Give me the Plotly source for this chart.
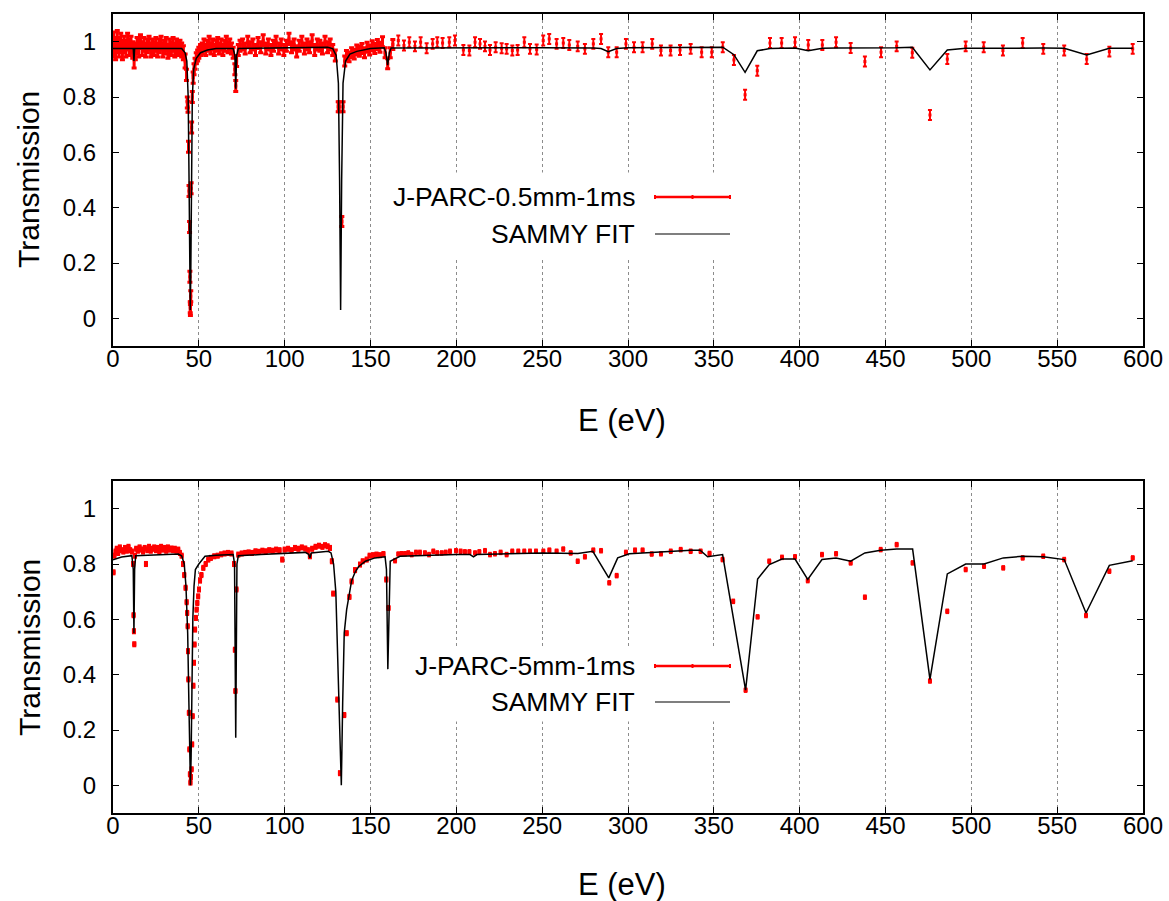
import plotly.graph_objects as go

# ---------------- TOP PANEL (J-PARC-0.5mm-1ms) ----------------
E_top_dense = [0.5, 1.5, 2.5, 3.5, 4.5, 5.5, 6.5, 7.5, 8.5, 9.5, 10.5, 11.5, 12.3, 13.0,
               14, 15, 16, 17, 18, 19, 20, 21, 22, 23, 24, 25, 26, 27, 28, 29, 30, 31, 32,
               33, 34, 35, 36, 37, 38, 39, 40, 41, 42, 42.8, 43.3, 43.7, 44.0, 44.3, 44.6,
               44.8, 45.0, 45.1, 45.3, 45.5, 45.8, 46.2, 46.7, 47.2, 47.8, 48.5, 49.3,
               50, 51, 52, 53, 54, 55, 56, 57, 58, 59, 60, 61, 62, 63, 64, 65, 66, 67, 68,
               69, 70, 71.0, 71.5, 72.0, 73, 74, 75.5, 77, 78.5, 80, 81.5, 83, 84.5, 86,
               87.5, 89, 90.5, 92, 93.5, 95, 96.5, 98, 99.5, 101, 102.5, 104, 105.5, 107,
               108.5, 110, 111.5, 113, 114.5, 116, 117.5, 119, 120.5, 122, 123.5, 125,
               126.5, 128, 129.5, 131.2, 131.8, 133.3, 134.0, 135, 136, 137.5, 139, 140.5,
               142, 143.5, 145, 146.5, 148, 149.5, 151, 152.5, 154, 155.5, 157, 158.5, 160,
               161.5, 163]
T_top_dense = [0.99, 0.975, 1.0, 0.98, 0.995, 0.97, 0.99, 0.975, 1.0, 0.98, 0.99, 0.97, 0.935, 0.965,
               0.985, 0.975, 1.0, 0.975, 0.99, 0.97, 0.985, 0.995, 0.97, 0.985, 0.975, 0.99, 0.97, 0.985, 0.995, 0.97, 0.98, 0.99, 0.965,
               0.985, 0.975, 0.99, 0.97, 0.985, 0.975, 0.98, 0.97, 0.96, 0.93, 0.88, 0.78, 0.765, 0.62, 0.46, 0.33,
               0.15, 0.04, 0.03, 0.08, 0.47, 0.69, 0.80, 0.87, 0.90, 0.92, 0.94, 0.95,
               0.96, 0.97, 0.975, 0.99, 0.97, 0.985, 1.0, 0.975, 0.99, 0.97, 0.985, 0.995, 0.975, 0.99, 0.97, 0.985, 1.0, 0.98, 0.99,
               0.975, 0.96, 0.90, 0.84, 0.93, 0.97, 0.985, 0.99, 0.975, 1.0, 0.98, 0.99, 0.97, 0.995, 0.98,
               1.005, 0.975, 0.99, 0.97, 0.985, 1.0, 0.975, 0.99, 0.97, 0.985, 1.01, 0.98, 0.99, 0.965,
               0.985, 1.0, 0.975, 0.99, 0.98, 1.005, 0.97, 0.99, 0.985, 0.975, 1.0, 0.98,
               0.99, 0.97, 0.95, 0.765, 0.765, 0.35, 0.765, 0.93, 0.95, 0.945, 0.96, 0.955,
               0.97, 0.965, 0.975, 0.96, 0.98, 0.97, 0.985, 0.975, 0.99, 0.98, 1.0, 0.96, 0.92,
               0.96, 0.99]
err_top_dense = [0.045, 0.04, 0.04, 0.035, 0.035, 0.035, 0.03, 0.03, 0.03, 0.03, 0.03, 0.03, 0.03, 0.03,
                 0.03, 0.03, 0.025, 0.025, 0.025, 0.025, 0.025, 0.025, 0.025, 0.025, 0.025, 0.025, 0.025, 0.025, 0.025, 0.025, 0.025, 0.025, 0.025,
                 0.025, 0.025, 0.025, 0.025, 0.025, 0.025, 0.025, 0.025, 0.025, 0.025, 0.02, 0.02, 0.02, 0.02, 0.02, 0.02,
                 0.02, 0.02, 0.02, 0.02, 0.02, 0.02, 0.02, 0.02, 0.02, 0.02, 0.02, 0.02,
                 0.02, 0.02, 0.02, 0.02, 0.02, 0.02, 0.02, 0.02, 0.02, 0.02, 0.02, 0.02, 0.02, 0.02, 0.02, 0.02, 0.02, 0.02, 0.02,
                 0.02, 0.02, 0.02, 0.02, 0.02, 0.02, 0.02, 0.02, 0.02, 0.02, 0.02, 0.02, 0.02, 0.02, 0.02,
                 0.02, 0.02, 0.02, 0.02, 0.02, 0.02, 0.02, 0.02, 0.02, 0.02, 0.02, 0.02, 0.02, 0.02,
                 0.02, 0.02, 0.02, 0.02, 0.02, 0.02, 0.02, 0.02, 0.02, 0.02, 0.02, 0.02,
                 0.02, 0.02, 0.02, 0.018, 0.018, 0.018, 0.018, 0.018, 0.018, 0.018, 0.018, 0.018,
                 0.018, 0.018, 0.018, 0.018, 0.018, 0.018, 0.018, 0.018, 0.018, 0.018, 0.018, 0.018, 0.018,
                 0.018, 0.018]

E_top_sparse = [166.2, 169.5, 172.6, 175.9, 179.2, 182.7, 186.2, 188.9, 192.0, 195.9, 199.2,
                204.1, 207.6, 210.9, 213.8, 216.7, 219.6, 222.9, 226.4, 229.3, 232.6, 235.7,
                239.6, 242.9, 246.8, 250.6, 254.1, 258.4, 262.3, 265.8, 270.7, 274.9, 279.8,
                284.3, 288.5, 293.4, 298.8, 303.5, 308.5, 314.1, 319.2, 324.8, 330.3, 336.5,
                342.9, 348.8, 355.2, 361.7, 368.2, 375.3, 382.7, 389.5, 397.3, 405.0, 413.2,
                421.2, 429.7, 438.0, 447.4, 456.5, 465.6, 475.9, 486.0, 496.7, 507.2, 518.4,
                529.9, 541.9, 554.1, 567.2, 580.4, 594.0]
T_top_sparse = [1.004, 0.986, 0.998, 0.983, 0.998, 0.976, 0.992, 0.998, 0.995, 0.998, 1.004,
                0.970, 0.968, 0.998, 0.992, 0.983, 0.970, 0.980, 0.976, 0.974, 0.968, 0.970,
                0.998, 0.974, 0.972, 1.004, 1.010, 0.992, 0.995, 0.988, 0.983, 0.974, 0.992,
                1.010, 0.962, 0.962, 0.992, 0.980, 0.980, 0.992, 0.968, 0.968, 0.970, 0.974,
                0.962, 0.962, 0.980, 0.934, 0.808, 0.895, 0.995, 0.995, 0.998, 0.988, 0.988,
                0.998, 0.977, 0.928, 0.962, 0.983, 0.960, 0.735, 0.937, 0.983, 0.980, 0.968,
                0.995, 0.974, 0.968, 0.937, 0.964, 0.974]

E_top_fit = [0, 11.8, 12.2, 12.6, 40, 42, 43, 43.8, 44.3, 44.7, 45.0, 45.3, 45.7, 46.2, 47,
             48.5, 51, 55, 60, 70, 71, 71.5, 72, 73, 125, 128, 130, 131.3, 132, 132.6, 133.2,
             134, 135.5, 138, 142, 150, 158, 159, 160, 161, 162, 200, 250, 280, 284.3, 288.5,
             293.4, 300, 350, 355.2, 361.7, 368.2, 375.3, 382.7, 389.5, 397.3, 405.0, 413.2,
             421.2, 429.7, 438.0, 447.4, 456.5, 465.6, 475.9, 486.0, 496.7, 507.2, 518.4,
             529.9, 541.9, 554.1, 567.2, 580.4, 594.0]
T_top_fit = [0.975, 0.975, 0.93, 0.975, 0.975, 0.96, 0.93, 0.80, 0.50, 0.15, 0.03, 0.15, 0.50, 0.80, 0.90,
             0.94, 0.96, 0.97, 0.975, 0.975, 0.95, 0.83, 0.95, 0.975, 0.98, 0.975, 0.95, 0.85, 0.50, 0.03, 0.50,
             0.85, 0.93, 0.955, 0.965, 0.975, 0.978, 0.96, 0.915, 0.96, 0.977, 0.978, 0.978, 0.977, 0.975, 0.964,
             0.975, 0.978, 0.979, 0.980, 0.953, 0.889, 0.967, 0.975, 0.976, 0.977, 0.967, 0.976,
             0.977, 0.977, 0.977, 0.978, 0.978, 0.980, 0.898, 0.970, 0.976, 0.976, 0.977,
             0.978, 0.977, 0.976, 0.952, 0.976, 0.976]

# ---------------- BOTTOM PANEL (J-PARC-5mm-1ms) ----------------
E_bot_dense = [0.3, 0.8, 1.5, 2.2, 3, 4, 5, 6, 7, 8, 9, 10, 11, 11.7, 12.0, 12.2, 12.4, 12.8,
               13.5, 14.5, 15.5, 16.5, 17.5, 18.5, 19.2, 20, 21, 22, 23, 24, 25, 26, 27, 28,
               29, 30, 31, 32, 33, 34, 35, 36, 37, 38, 39, 40, 40.8, 41.5, 42.3, 42.9, 43.2,
               43.5, 43.7, 43.9, 44.2, 44.5, 44.8, 45.1, 45.4, 45.8, 46.1, 46.4, 46.8, 47.2,
               47.5, 47.8, 48.3, 48.7, 49.1, 49.6, 50.1, 50.7, 51.5, 52.6, 54, 55.5, 57, 59,
               61, 63, 65, 67, 69, 70.5, 71.0, 71.3, 71.9, 73, 75, 77, 79, 81, 83, 85, 87,
               89, 91, 93, 95, 97, 98.6, 100, 102, 104, 106, 108, 110, 112, 113.5, 114.7,
               116, 118, 120, 122, 123.5, 125, 126.4, 127.5, 128.3, 130.7, 132.2, 134.7,
               136.1, 137.7, 139, 141, 143.9, 145.5, 147.8, 149.5, 151.5, 153.5, 155.5,
               157.5, 159.2, 160.5]
T_bot_dense = [0.77, 0.83, 0.845, 0.855, 0.84, 0.86, 0.85, 0.845, 0.858, 0.848, 0.862, 0.85, 0.845, 0.80, 0.615, 0.557, 0.51, 0.83,
               0.855, 0.848, 0.86, 0.852, 0.845, 0.858, 0.80, 0.85, 0.862, 0.848, 0.855, 0.86, 0.85, 0.858, 0.845, 0.862,
               0.852, 0.858, 0.848, 0.86, 0.852, 0.856, 0.85, 0.855, 0.848, 0.852, 0.84, 0.83, 0.80, 0.76, 0.714, 0.662, 0.623,
               0.575, 0.485, 0.383, 0.262, 0.130, 0.040, 0.01, 0.03, 0.058, 0.148, 0.25, 0.36, 0.443,
               0.509, 0.563, 0.605, 0.635, 0.659, 0.683, 0.708, 0.74, 0.76, 0.786, 0.80, 0.816, 0.822, 0.828,
               0.83, 0.835, 0.838, 0.84, 0.838, 0.80, 0.49, 0.341, 0.708, 0.834, 0.838, 0.84, 0.842, 0.84, 0.846, 0.844, 0.848,
               0.846, 0.85, 0.848, 0.852, 0.85, 0.816, 0.852, 0.855, 0.85, 0.858, 0.855, 0.86, 0.856, 0.85, 0.828,
               0.855, 0.862, 0.866, 0.862, 0.868, 0.864, 0.858, 0.81, 0.693, 0.31, 0.044, 0.254,
               0.55, 0.681, 0.737, 0.778, 0.798, 0.81, 0.816, 0.83, 0.832, 0.834, 0.832,
               0.836, 0.744, 0.641]

E_bot_sparse = [164.3, 166.2, 168.2, 170.1, 172.0, 174.0, 176.5, 178.8, 181.7, 184.1, 186.6,
                188.9, 191.5, 193.8, 196.3, 199.8, 202.5, 205.0, 207.6, 210.9, 213.4, 216.7,
                219.6, 222.5, 225.8, 229.3, 232.6, 236.1, 239.6, 242.9, 246.4, 250.7, 254.2,
                258.4, 262.3, 266.6, 270.7, 274.9, 279.8, 284.3, 289.1, 293.4, 298.8, 304.1,
                308.5, 313.8, 319.2, 324.9, 330.7, 336.5, 342.3, 347.5, 355.1, 361.3, 368.5,
                375.5, 382.3, 389.7, 397.3, 404.7, 413.0, 421.2, 429.7, 438.0, 447.2, 456.5,
                465.8, 475.9, 486.0, 496.7, 507.4, 518.6, 529.9, 541.9, 554.1, 566.8, 580.4,
                594.0]
T_bot_sparse = [0.812, 0.836, 0.837, 0.837, 0.840, 0.834, 0.842, 0.842, 0.840, 0.834, 0.846,
                0.840, 0.840, 0.842, 0.846, 0.848, 0.846, 0.844, 0.844, 0.840, 0.844, 0.848,
                0.834, 0.837, 0.842, 0.834, 0.846, 0.846, 0.846, 0.846, 0.846, 0.846, 0.850,
                0.846, 0.854, 0.840, 0.810, 0.826, 0.850, 0.848, 0.732, 0.758, 0.842, 0.850,
                0.850, 0.836, 0.837, 0.846, 0.852, 0.846, 0.846, 0.838, 0.816, 0.665, 0.344,
                0.609, 0.810, 0.824, 0.826, 0.740, 0.834, 0.837, 0.804, 0.680, 0.852, 0.870,
                0.804, 0.377, 0.629, 0.780, 0.792, 0.786, 0.822, 0.828, 0.816, 0.614, 0.774,
                0.822]

E_bot_fit = [0, 5, 11, 11.8, 12.2, 12.6, 13.2, 30, 38, 40, 41.5, 42.5, 43.5, 44.2, 44.8, 45.1,
             45.5, 46, 46.5, 47.2, 48, 50, 53.6, 60, 70, 70.8, 71.5, 72.2, 73, 86, 100, 106,
             112, 114, 114.7, 115.5, 125.4, 127, 128.5, 129.8, 131, 132.2, 133, 133.8, 134.7,
             136.1, 139, 141, 143, 147, 152.6, 158.5, 159.3, 160.1, 160.8, 161.5, 163.3, 167.2,
             200, 208, 210, 212, 250, 270.8, 279.5, 288.8, 294, 300.8, 336.7, 342, 346.4,
             355.1, 368.5, 375.5, 382.3, 389.7, 397.3, 404.7, 413.0, 421.2, 429.7, 438.0,
             447.2, 456.5, 465.8, 475.9, 486.0, 496.7, 507.4, 518.6, 529.9, 541.9, 554.1,
             566.8, 580.4, 594.0]
T_bot_fit = [0.815, 0.825, 0.83, 0.78, 0.55, 0.78, 0.83, 0.834, 0.836, 0.83, 0.80, 0.72, 0.55, 0.30, 0.05, 0.0,
             0.10, 0.40, 0.60, 0.72, 0.78, 0.80, 0.828, 0.832, 0.834, 0.80, 0.172, 0.80, 0.83, 0.834, 0.838, 0.840,
             0.842, 0.835, 0.822, 0.84, 0.846, 0.84, 0.80, 0.70, 0.40, 0.10, 0.0, 0.30, 0.55,
             0.635, 0.74, 0.77, 0.79, 0.81, 0.822, 0.826, 0.78, 0.42, 0.70, 0.81, 0.816, 0.828,
             0.834, 0.834, 0.826, 0.834, 0.840, 0.838, 0.846, 0.750, 0.822, 0.837, 0.850, 0.850, 0.826,
             0.834, 0.344, 0.746, 0.798, 0.818, 0.818, 0.744, 0.816, 0.822, 0.810, 0.840,
             0.850, 0.854, 0.854, 0.383, 0.764, 0.800, 0.800, 0.822, 0.828, 0.826, 0.816,
             0.623, 0.795, 0.812]

x_ticks = [0, 50, 100, 150, 200, 250, 300, 350, 400, 450, 500, 550, 600]
y_ticks = [0, 0.2, 0.4, 0.6, 0.8, 1]

label_top = "J-PARC-0.5mm-1ms"
label_bot = "J-PARC-5mm-1ms"
label_fit = "SAMMY FIT"
x_title = "E (eV)"
y_title = "Transmission"

# ---------------- FIGURE ----------------
W, H = 1169, 901
RED = "#ff0000"
FONT = "Liberation Sans, Arial, Helvetica, sans-serif"


def px(xp):
    return xp / W


def py(yp):
    return 1 - yp / H


fig = go.Figure()

# top panel traces
fig.add_trace(go.Scatter(x=E_top_dense, y=T_top_dense, mode="markers", xaxis="x", yaxis="y",
                         marker=dict(color=RED, size=3, symbol="square"),
                         error_y=dict(type="data", array=err_top_dense, color=RED, thickness=3, width=2.5),
                         name=label_top, showlegend=False))
fig.add_trace(go.Scatter(x=E_top_sparse, y=T_top_sparse, mode="markers", xaxis="x", yaxis="y",
                         marker=dict(color=RED, size=3, symbol="square"),
                         error_y=dict(type="constant", value=0.018, color=RED, thickness=2, width=2),
                         name=label_top, showlegend=False))
fig.add_trace(go.Scatter(x=E_top_fit, y=T_top_fit, mode="lines", xaxis="x", yaxis="y",
                         line=dict(color="black", width=1.5), name=label_fit, showlegend=False))

# bottom panel traces
fig.add_trace(go.Scatter(x=E_bot_dense, y=T_bot_dense, mode="markers", xaxis="x2", yaxis="y2",
                         marker=dict(color=RED, size=4, symbol="square"),
                         error_y=dict(type="constant", value=0.011, color=RED, thickness=4, width=0),
                         name=label_bot, showlegend=False))
fig.add_trace(go.Scatter(x=E_bot_sparse, y=T_bot_sparse, mode="markers", xaxis="x2", yaxis="y2",
                         marker=dict(color=RED, size=4, symbol="square"),
                         error_y=dict(type="constant", value=0.010, color=RED, thickness=3.5, width=0),
                         name=label_bot, showlegend=False))
fig.add_trace(go.Scatter(x=E_bot_fit, y=T_bot_fit, mode="lines", xaxis="x2", yaxis="y2",
                         line=dict(color="black", width=1.5), name=label_fit, showlegend=False))

xaxis_common = dict(range=[0, 600], tickvals=x_ticks, ticks="inside", ticklen=6, tickwidth=1,
                    tickcolor="black", showline=True, linecolor="black", linewidth=2, mirror="ticks",
                    showgrid=True, gridcolor="#8c8c8c", gridwidth=1, griddash="dot", zeroline=False,
                    ticklabelstandoff=-10,
                    tickfont=dict(family=FONT, size=24, color="black"), automargin=False,
                    fixedrange=True)
yaxis_common = dict(range=[-0.1, 1.1], tickvals=y_ticks, ticks="inside", ticklen=6, tickwidth=1,
                    tickcolor="black", showline=True, linecolor="black", linewidth=2, mirror="ticks",
                    showgrid=False, zeroline=False, ticklabelstandoff=10,
                    tickfont=dict(family=FONT, size=24, color="black"), automargin=False,
                    fixedrange=True)

fig.update_layout(
    width=W, height=H,
    margin=dict(l=0, r=0, t=0, b=0),
    paper_bgcolor="white", plot_bgcolor="white",
    showlegend=False,
    xaxis=dict(domain=[px(113), px(1143)], anchor="y", **xaxis_common),
    yaxis=dict(domain=[py(346), py(14)], anchor="x", **yaxis_common),
    xaxis2=dict(domain=[px(113), px(1143)], anchor="y2", **xaxis_common),
    yaxis2=dict(domain=[py(813), py(481)], anchor="x2", **yaxis_common),
)

shapes = []
annotations = []

# legend boxes (white, covering gridlines only)
shapes.append(dict(type="rect", xref="x", yref="y", x0=158, x1=368, y0=0.217, y1=0.527,
                   fillcolor="white", line=dict(width=0), layer="between"))
shapes.append(dict(type="rect", xref="x2", yref="y2", x0=164, x1=368, y0=0.231, y1=0.502,
                   fillcolor="white", line=dict(width=0), layer="between"))


def legend_entry(ytxt, label, color, width, errbar):
    annotations.append(dict(text=label, xref="paper", yref="paper", x=px(637), y=py(ytxt),
                            xanchor="right", yanchor="middle", showarrow=False,
                            font=dict(family=FONT, size=26.5, color="black")))
    shapes.append(dict(type="line", xref="paper", yref="paper", x0=px(655), x1=px(730),
                       y0=py(ytxt), y1=py(ytxt), line=dict(color=color, width=width)))
    if errbar:
        for xe in (655, 692.5, 730):
            shapes.append(dict(type="line", xref="paper", yref="paper", x0=px(xe), x1=px(xe),
                               y0=py(ytxt - 2), y1=py(ytxt + 2), line=dict(color=color, width=2)))


legend_entry(197, label_top, RED, 2.5, True)
legend_entry(234, label_fit, "black", 1.2, False)
legend_entry(666, label_bot, RED, 2.5, True)
legend_entry(702, label_fit, "black", 1.2, False)

# axis titles
for yc in (180, 648):
    annotations.append(dict(text=y_title, xref="paper", yref="paper", x=px(29), y=py(yc),
                            xanchor="center", yanchor="middle", textangle=-90, showarrow=False,
                            font=dict(family=FONT, size=30, color="black")))
for yc in (420, 884):
    annotations.append(dict(text=x_title, xref="paper", yref="paper", x=px(622), y=py(yc),
                            xanchor="center", yanchor="middle", showarrow=False,
                            font=dict(family=FONT, size=31, color="black")))

fig.update_layout(shapes=shapes, annotations=annotations)

fig.write_html(
    "out.html",
    config={"displayModeBar": False},
    post_script="document.body.style.margin='0px';document.body.style.padding='0px';"
                "document.documentElement.style.overflow='hidden';",
)
